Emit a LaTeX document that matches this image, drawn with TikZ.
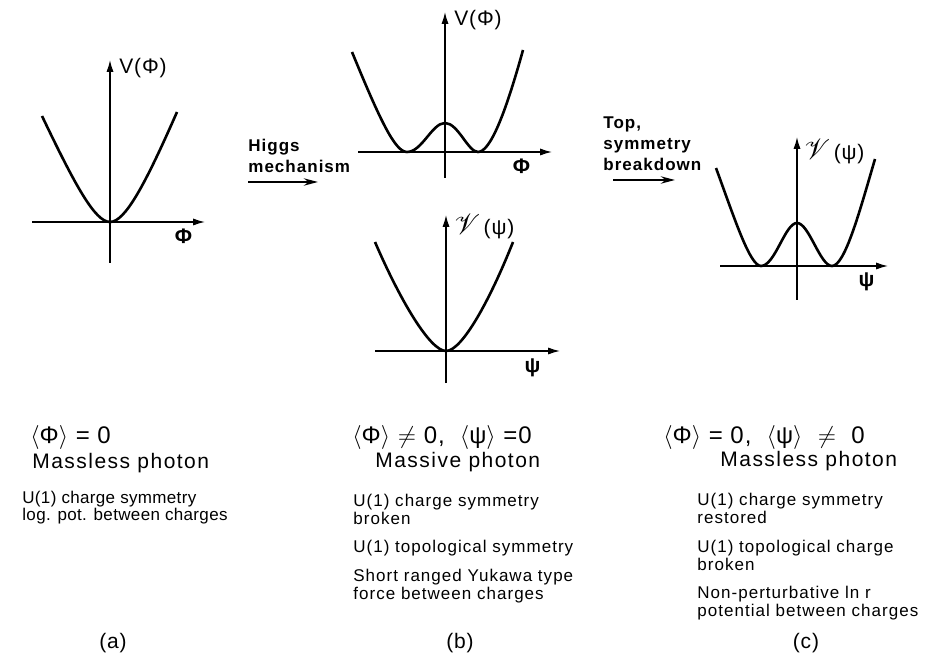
\documentclass[tikz,border=0pt]{standalone}
\usepackage{amsmath,amssymb,mathrsfs}
\usepackage{fontspec}
\setmainfont{Liberation Sans}
\usetikzlibrary{arrows.meta}

\newcommand{\potV}{{\fontsize{15}{15}\selectfont$\mathscr{V}$}}

\begin{document}
\begin{tikzpicture}[x=.5pt,y=-.5pt,
  axis/.style={line width=.7pt,-{Latex[length=6pt,width=3.6pt]}},
  curve/.style={line width=1.3pt},
  trans/.style={line width=1.3pt,-{Stealth[length=7pt,width=3.6pt]}},
  lab/.style={inner sep=0pt,font=\fontsize{10.5}{12}\selectfont\addfontfeature{LetterSpace=4}},
  vac/.style={inner sep=0pt,anchor=west,font=\fontsize{12}{12}\selectfont\addfontfeature{LetterSpace=4}},
  big/.style={inner sep=0pt,anchor=west,font=\fontsize{10.5}{12}\selectfont\addfontfeature{LetterSpace=7}},
  small/.style={inner sep=0pt,anchor=west,align=left,font=\fontsize{8.5}{9}\selectfont\addfontfeature{LetterSpace=6}}]
\useasboundingbox (0,0) rectangle (925,657);
% (a)
\draw[axis] (110,263)--(110,60);
\draw[axis] (32,222)--(205,222);
\draw[curve] (42,116) .. controls (75,185) and (95,222) .. (110,222)
             .. controls (125,222) and (145,185) .. (177,112);
\node[lab,anchor=west] (Va) at (119,68) {V(Φ)};
\node[lab] (phia) at (184,236) {\textbf{Φ}};
% (b), top
\draw[axis] (445,178)--(445,12);
\draw[axis] (358,152)--(552,152);
\draw[curve] (352,52) .. controls (380,120) and (395,152) .. (407,152)
             .. controls (422,152) and (432,123) .. (445,123)
             .. controls (458,123) and (468,152) .. (478,152)
             .. controls (490,152) and (505,115) .. (523,50);
\node[lab,anchor=west] (Vb) at (454,20) {V(Φ)};
\node[lab] (phib) at (522,166) {\textbf{Φ}};
% (b), bottom
\draw[axis] (446,383)--(446,215);
\draw[axis] (375,351)--(560,351);
\draw[curve] (375,242) .. controls (400,300) and (430,351) .. (446,351)
             .. controls (462,351) and (490,300) .. (513,242);
\node[lab,anchor=west] (Wb) at (454,227) {\potV\,(ψ)};
\node[lab] (psib) at (533,368) {\textbf{ψ}};
% (c)
\draw[axis] (797,300)--(797,137);
\draw[axis] (720,266)--(888,266);
\draw[curve] (716,168) .. controls (735,220) and (750,266) .. (761,266)
             .. controls (775,266) and (785,223) .. (797,223)
             .. controls (809,223) and (820,266) .. (832,266)
             .. controls (845,266) and (860,210) .. (875,159);
\node[lab,anchor=west] (Wc) at (804,152) {\potV\,(ψ)};
\node[lab] (psic) at (867,282) {\textbf{ψ}};
% transitions
\node[small,font=\fontsize{8.5}{10.5}\selectfont\bfseries\addfontfeature{LetterSpace=6}] (higgs) at (248,156) {Higgs\\mechanism};
\draw[trans] (248,182)--(318,182);
\node[small,font=\fontsize{8.5}{10.5}\selectfont\bfseries\addfontfeature{LetterSpace=6}] (top) at (603,144) {Top,\\symmetry\\breakdown};
\draw[trans] (613,180)--(675,180);
% vacua
\node[vac] (vaca) at (30,437) {$\langle$Φ$\rangle$ = 0};
\node[vac] (vacb) at (352,437) {$\langle$Φ$\rangle$ $\neq$ 0, \ $\langle$ψ$\rangle$ =0};
\node[vac] (vacc) at (663,437) {$\langle$Φ$\rangle$ = 0, \ $\langle$ψ$\rangle$ \ $\neq$ \ 0};
\node[big] (phota) at (32,463) {Massless photon};
\node[big] (photb) at (375,462) {Massive photon};
\node[big] (photc) at (720,461) {Massless photon};
% properties
\node[small,font=\fontsize{8.5}{8.5}\selectfont\addfontfeature{LetterSpace=2}] (pa) at (22,508) {U(1) charge symmetry\\log. pot. between charges};
\node[small] (pb1) at (353,509) {U(1) charge symmetry\\broken};
\node[small] (pb2) at (353,548) {U(1) topological symmetry};
\node[small] (pb3) at (353,586) {Short ranged Yukawa type\\force between charges};
\node[small] (pc1) at (697,508) {U(1) charge symmetry\\restored};
\node[small] (pc2) at (697,555) {U(1) topological charge\\broken};
\node[small] (pc3) at (697,603) {Non-perturbative ln r\\potential between charges};
% captions
\node[lab] (capa) at (113,643) {(a)};
\node[lab] (capb) at (460,643) {(b)};
\node[lab] (capc) at (806,643) {(c)};
\end{tikzpicture}
\end{document}
